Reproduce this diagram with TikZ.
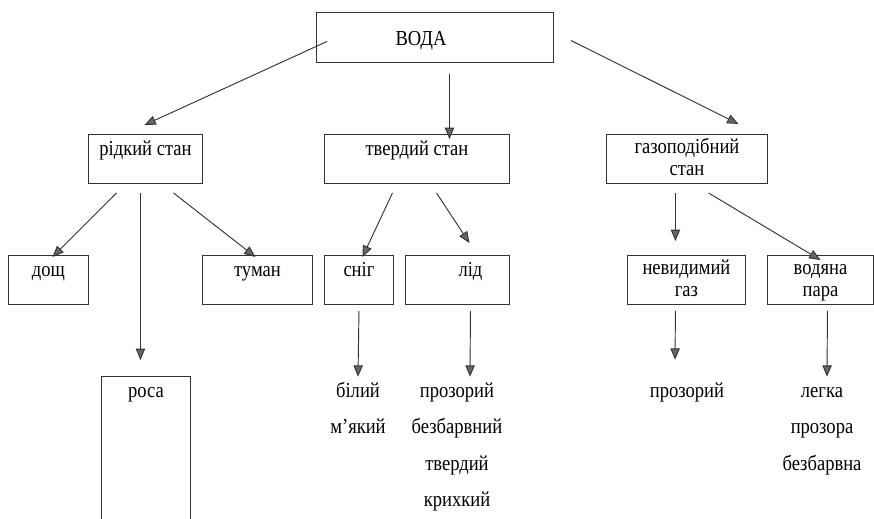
\documentclass[tikz,border=0pt]{standalone}
\usepackage{fontspec}
\setmainfont{Liberation Serif}[FakeStretch=0.87]
\usetikzlibrary{arrows.meta}
\tikzset{box/.style = {draw = black!80, line width = 0.7pt, rectangle, inner sep = 0, anchor = north west, font = \fontsize{16}{16.5}\selectfont}}
\tikzset{sz/.style 2 args = {minimum width = #1*0.75pt, minimum height = #2*0.75pt}}
\tikzset{toptext/.style = {text height = 15.75pt, text depth = #1}}
\tikzset{list/.style = {align = center, inner sep = 0, anchor = north, font = \fontsize{16}{27.3}\selectfont}}
\tikzset{arr/.style = {draw = black!80, line width = 0.7pt, -{Triangle[length = 8.5pt, width = 7pt, fill = black!60]}}}

\begin{document}
\begin{tikzpicture}[x=0.75pt, y=-0.75pt]
    \useasboundingbox (0,0) rectangle (874,518);

    % boxes
    \node [box, sz={237}{50}, text height=24.75pt, text depth=12.75pt] (voda) at (316,12) {ВОДА\hspace*{21pt}};
    \node [box, sz={114}{49}, toptext=21pt] (ridkyi) at (88,134) {рідкий стан};
    \node [box, sz={185}{49}, toptext=21pt] (tverdyi) at (324,134) {твердий стан};
    \node [box, align=center, sz={161}{49}] (gazo) at (606,134) {\vphantom{б}газоподібний\\стан\vphantom{р}};
    \node [box, sz={80}{49}, toptext=21pt] (doshch) at (8,255) {дощ};
    \node [box, sz={110}{49}, toptext=21pt] (tuman) at (202,255) {туман};
    \node [box, sz={69}{49}, toptext=21pt] (snih) at (324,255) {сніг};
    \node [box, sz={104}{49}, toptext=21pt] (lid) at (405,255) {\hspace*{19.5pt}лід};
    \node [box, align=center, sz={118}{49}] (nevyd) at (627,255) {\vphantom{б}невидимий\\газ\vphantom{р}};
    \node [box, align=center, sz={106}{49}] (vodiana) at (767,255) {\vphantom{б}водяна\\пара\vphantom{р}};
    \node [box, sz={89}{144}, toptext=92.25pt] (rosa) at (101,376) {роса};

    % properties
    \node [list] (bilyi) at (358,381.7) {\vphantom{б}білий\\м’який};
    \node [list] (prozoryi) at (457,381.7) {\vphantom{б}прозорий\\безбарвний\\твердий\\крихкий};
    \node [list] (gaz) at (687,381.7) {\vphantom{б}прозорий};
    \node [list] (lehka) at (822,381.7) {\vphantom{б}легка\\прозора\\безбарвна};

    % arrows
    \draw [arr] ([shift={(11,4)}]voda.west) -- ([shift={(-1,-9)}]ridkyi.north);
    \draw [arr] ([shift={(14.5,11)}]voda.south) -- ([shift={(32.5,5)}]tverdyi.north);
    \draw [arr] ([shift={(17,3)}]voda.east) -- ([shift={(51.5,-10)}]gazo.north);

    \draw [arr] ([shift={(-29,9)}]ridkyi.south) -- ([shift={(4,2)}]doshch.north);
    \draw [arr] ([shift={(-5,9)}]ridkyi.south) -- ([shift={(-5.5,-16)}]rosa.north);
    \draw [arr] ([shift={(28,9)}]ridkyi.south) -- ([shift={(-2,2)}]tuman.north);
    \draw [arr] ([shift={(-24.5,9)}]tverdyi.south) -- ([shift={(3.5,2)}]snih.north);
    \draw [arr] ([shift={(19.5,9)}]tverdyi.south) -- ([shift={(12,-12)}]lid.north);
    \draw [arr] ([shift={(-11.5,9)}]gazo.south) -- ([shift={(-11,-14)}]nevyd.north);
    \draw [arr] ([shift={(21.5,9)}]gazo.south) -- ([shift={(0,5)}]vodiana.north);

    \draw [arr] ([shift={(0,6)}]snih.south) -- ([shift={(0,-5)}]bilyi.north);
    \draw [arr] ([shift={(13,6)}]lid.south) -- ([shift={(13,-5)}]prozoryi.north);
    \draw [arr] ([shift={(-11,6)}]nevyd.south) -- ([shift={(-12,-22)}]gaz.north);
    \draw [arr] ([shift={(7,6)}]vodiana.south) -- ([shift={(5,-5)}]lehka.north);
\end{tikzpicture}
\end{document}
